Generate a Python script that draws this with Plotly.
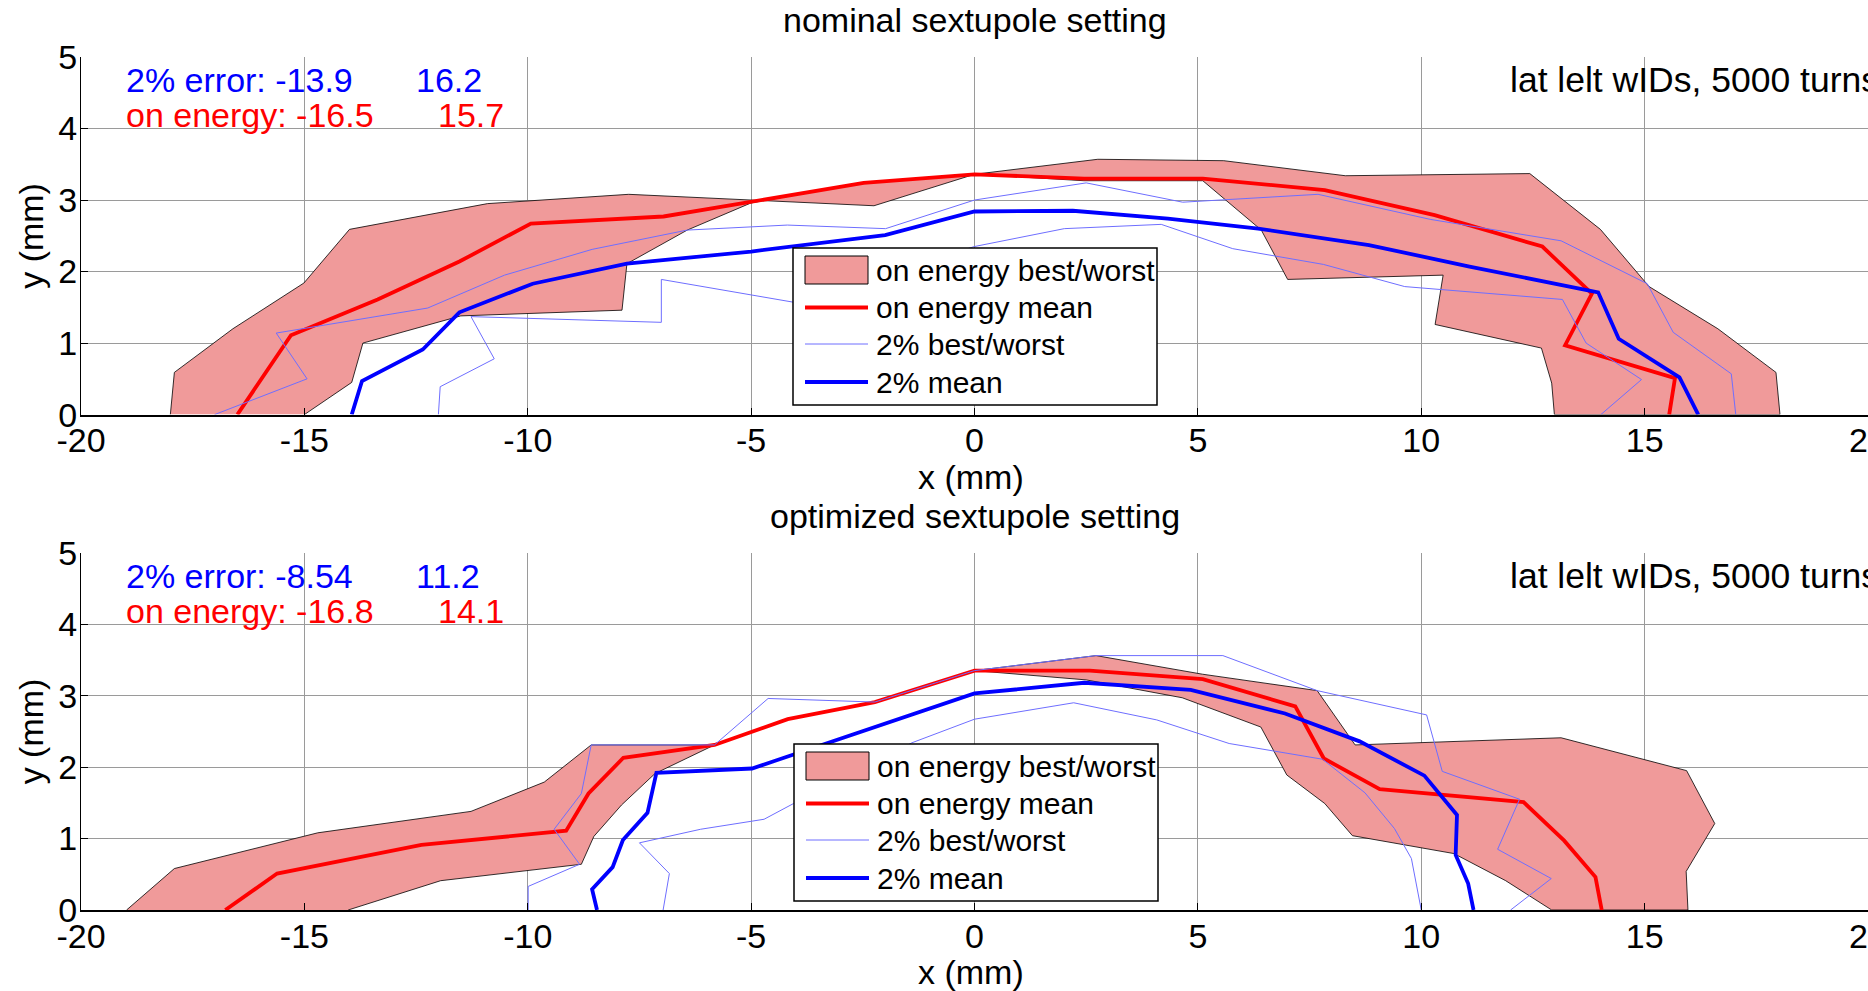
import plotly.graph_objects as go

W, H = 1868, 991

# ---------------- data (mm) ----------------
x_ticks = [-20, -15, -10, -5, 0, 5, 10, 15, 20]
y_ticks = [0, 1, 2, 3, 4, 5]

# ---- nominal sextupole setting ----
nom_oe_best_x = [-18.0, -17.91, -16.6, -15.01, -13.99, -10.9, -7.74, -2.25, 0.0, 2.76, 5.58, 8.3, 12.43, 14.01, 15.1, 16.64, 17.94, 18.03]
nom_oe_best_y = [0.0, 0.59, 1.2, 1.84, 2.59, 2.95, 3.08, 2.92, 3.36, 3.57, 3.55, 3.34, 3.37, 2.59, 1.79, 1.2, 0.59, 0.0]
nom_oe_worst_x = [-15.0, -13.94, -13.69, -11.5, -7.89, -7.78, -6.43, -5.0, -2.48, 0.0, 2.45, 5.11, 6.42, 7.01, 10.49, 10.31, 12.69, 12.92, 12.98]
nom_oe_worst_y = [0.0, 0.45, 1.0, 1.38, 1.46, 2.11, 2.58, 2.96, 3.24, 3.36, 3.27, 3.27, 2.58, 1.89, 1.95, 1.26, 0.93, 0.44, 0.0]
nom_oe_mean_x = [-16.5, -15.3, -13.36, -11.53, -9.93, -6.96, -2.48, 0.0, 2.45, 5.11, 7.84, 10.3, 12.71, 13.82, 13.22, 15.68, 15.55]
nom_oe_mean_y = [0.0, 1.11, 1.61, 2.14, 2.67, 2.77, 3.24, 3.36, 3.3, 3.3, 3.14, 2.79, 2.35, 1.69, 0.97, 0.51, 0.0]
nom_dp_best_x = [-17.01, -14.94, -15.63, -12.24, -10.52, -8.56, -6.43, -4.19, -1.99, 0.0, 2.5, 4.66, 7.69, 10.2, 13.13, 15.06, 15.64, 16.94, 17.04]
nom_dp_best_y = [0.0, 0.5, 1.14, 1.49, 1.95, 2.31, 2.58, 2.65, 2.6, 3.0, 3.24, 2.97, 3.08, 2.73, 2.43, 1.83, 1.15, 0.57, 0.0]
nom_dp_worst_x = [-12.0, -11.96, -10.75, -11.27, -7.01, -7.01, -4.04, 0.0, 2.01, 4.18, 5.78, 7.81, 9.63, 13.16, 13.69, 14.93, 14.02]
nom_dp_worst_y = [0.0, 0.39, 0.78, 1.37, 1.29, 1.89, 1.57, 2.35, 2.6, 2.66, 2.32, 2.1, 1.79, 1.61, 1.0, 0.49, 0.0]
nom_dp_mean_x = [-13.94, -13.71, -12.35, -11.53, -9.89, -7.78, -5.0, -2.0, 0.0, 2.2, 4.33, 6.35, 8.83, 11.08, 13.96, 14.42, 15.78, 16.2]
nom_dp_mean_y = [0.0, 0.47, 0.91, 1.43, 1.83, 2.11, 2.28, 2.51, 2.84, 2.85, 2.74, 2.6, 2.37, 2.07, 1.71, 1.06, 0.52, 0.0]

# ---- optimized sextupole setting ----
opt_oe_best_x = [-18.98, -17.91, -14.7, -11.27, -9.63, -8.58, -5.82, -4.18, -2.23, 0.0, 2.72, 5.1, 7.67, 8.52, 13.13, 15.94, 16.57, 15.93, 15.97]
opt_oe_best_y = [0.0, 0.58, 1.08, 1.38, 1.79, 2.31, 2.31, 2.67, 2.91, 3.35, 3.56, 3.3, 3.07, 2.31, 2.41, 1.95, 1.21, 0.54, 0.0]
opt_oe_worst_x = [-14.02, -11.95, -8.8, -8.52, -7.9, -7.15, -5.82, -4.18, -2.23, 0.0, 2.5, 4.65, 6.41, 6.99, 7.84, 8.46, 10.73, 11.89, 12.92]
opt_oe_worst_y = [0.0, 0.41, 0.64, 1.03, 1.47, 1.91, 2.31, 2.67, 2.91, 3.35, 3.22, 2.97, 2.56, 1.89, 1.49, 1.04, 0.79, 0.41, 0.0]
opt_oe_mean_x = [-16.77, -15.61, -12.38, -9.14, -8.64, -7.86, -5.82, -4.18, -2.23, 0.0, 2.58, 5.11, 7.18, 7.82, 9.07, 12.29, 13.2, 13.9, 14.04]
opt_oe_mean_y = [0.0, 0.51, 0.91, 1.11, 1.63, 2.13, 2.31, 2.67, 2.91, 3.35, 3.35, 3.23, 2.85, 2.12, 1.69, 1.51, 0.97, 0.46, 0.0]
opt_dp_best_x = [-9.99, -9.99, -8.84, -9.41, -8.8, -8.58, -5.82, -4.62, -2.23, 0.0, 2.72, 5.56, 7.67, 10.12, 10.47, 12.2, 11.71, 12.91, 12.0]
opt_dp_best_y = [0.0, 0.33, 0.64, 1.13, 1.63, 2.31, 2.31, 2.96, 2.91, 3.35, 3.56, 3.56, 3.07, 2.73, 1.94, 1.55, 0.85, 0.44, 0.0]
opt_dp_worst_x = [-6.97, -6.83, -7.5, -6.13, -4.71, -4.05, -1.4, 0.0, 2.22, 4.08, 5.7, 7.79, 8.74, 9.4, 9.78, 10.0]
opt_dp_worst_y = [0.0, 0.51, 0.94, 1.13, 1.27, 1.49, 2.34, 2.67, 2.9, 2.66, 2.33, 2.11, 1.64, 1.14, 0.72, 0.0]
opt_dp_mean_x = [-8.45, -8.56, -8.1, -7.87, -7.32, -7.12, -4.98, -2.28, 0.0, 2.46, 4.84, 6.95, 8.62, 10.07, 10.8, 10.77, 11.05, 11.17]
opt_dp_mean_y = [0.0, 0.29, 0.6, 0.98, 1.36, 1.92, 1.98, 2.55, 3.03, 3.18, 3.08, 2.75, 2.36, 1.88, 1.33, 0.77, 0.37, 0.0]

panel_titles = ["nominal sextupole setting", "optimized sextupole setting"]
dp_text = [("2% error: -13.9", "16.2"), ("2% error: -8.54", "11.2")]
oe_text = [("on energy: -16.5", "15.7"), ("on energy: -16.8", "14.1")]
info_text = "lat lelt wIDs, 5000 turns"
legend_labels = ["on energy best/worst", "on energy mean", "2% best/worst", "2% mean"]
x_title = "x (mm)"
y_title = "y (mm)"

# ---------------- styles ----------------
FONT = "Liberation Sans, Arial, Helvetica, sans-serif"
PINK = "#F09A9A"
RED = "#FF0000"
BLUE = "#0000FF"
LBLUE = "rgb(110,110,255)"
GRID = "#9a9a9a"
THICK = 3.8

panels = [
    dict(best=(nom_oe_best_x, nom_oe_best_y), worst=(nom_oe_worst_x, nom_oe_worst_y),
         oe_mean=(nom_oe_mean_x, nom_oe_mean_y), dp_best=(nom_dp_best_x, nom_dp_best_y),
         dp_worst=(nom_dp_worst_x, nom_dp_worst_y), dp_mean=(nom_dp_mean_x, nom_dp_mean_y),
         y0=414.6, y5=57.0, legend_left=793, legend_top=248),
    dict(best=(opt_oe_best_x, opt_oe_best_y), worst=(opt_oe_worst_x, opt_oe_worst_y),
         oe_mean=(opt_oe_mean_x, opt_oe_mean_y), dp_best=(opt_dp_best_x, opt_dp_best_y),
         dp_worst=(opt_dp_worst_x, opt_dp_worst_y), dp_mean=(opt_dp_mean_x, opt_dp_mean_y),
         y0=910.0, y5=552.7, legend_left=794, legend_top=744),
]

X_LEFT = 81.0  # px of x=-20


def px(xp):
    return xp / W


def py(yp):
    return 1 - yp / H


fig = go.Figure()
annotations = []
shapes = []

for i, p in enumerate(panels):
    xa = "x" if i == 0 else "x2"
    ya = "y" if i == 0 else "y2"
    bx, by = p["best"]
    wx, wy = p["worst"]
    fig.add_trace(go.Scatter(x=list(bx) + list(wx)[::-1], y=list(by) + list(wy)[::-1],
                             fill="toself", fillcolor=PINK, mode="lines",
                             line=dict(color="black", width=0.8),
                             name=legend_labels[0], showlegend=False, xaxis=xa, yaxis=ya,
                             hoverinfo="skip"))
    fig.add_trace(go.Scatter(x=p["oe_mean"][0], y=p["oe_mean"][1], mode="lines",
                             line=dict(color=RED, width=THICK), name=legend_labels[1],
                             showlegend=False, xaxis=xa, yaxis=ya))
    for key in ("dp_best", "dp_worst"):
        fig.add_trace(go.Scatter(x=p[key][0], y=p[key][1], mode="lines",
                                 line=dict(color=LBLUE, width=1), name=legend_labels[2],
                                 showlegend=False, xaxis=xa, yaxis=ya))
    fig.add_trace(go.Scatter(x=p["dp_mean"][0], y=p["dp_mean"][1], mode="lines",
                             line=dict(color=BLUE, width=THICK), name=legend_labels[3],
                             showlegend=False, xaxis=xa, yaxis=ya))

    y0, y5 = p["y0"], p["y5"]
    axis_common = dict(showgrid=True, gridcolor=GRID, gridwidth=1, zeroline=False,
                       showline=True, linecolor="black", linewidth=1, automargin=False,
                       ticks="inside", ticklen=7, tickcolor="black",
                       tickfont=dict(family=FONT, size=34, color="black"))
    xkey = "xaxis" if i == 0 else "xaxis2"
    ykey = "yaxis" if i == 0 else "yaxis2"
    fig.update_layout(**{
        xkey: dict(axis_common, domain=[px(X_LEFT), 1.0], range=[-20, 20],
                   tickvals=x_ticks, ticktext=[str(v) for v in x_ticks],
                   anchor=ya, ticklabeloverflow="allow", linewidth=2, ticklabelstandoff=-5),
        ykey: dict(axis_common, domain=[py(y0), py(y5)], range=[0, 5],
                   tickvals=y_ticks, ticktext=[str(v) for v in y_ticks], anchor=xa,
                   ticklabelstandoff=-4),
    })

    # panel title
    annotations.append(dict(text=panel_titles[i], x=px(975), y=py(y5 - 37), xref="paper", yref="paper",
                            xanchor="center", yanchor="middle", showarrow=False,
                            font=dict(family=FONT, size=34, color="black")))
    # x title
    annotations.append(dict(text=x_title, x=px(971), y=py(y0 + 62), xref="paper", yref="paper",
                            xanchor="center", yanchor="middle", showarrow=False,
                            font=dict(family=FONT, size=34, color="black")))
    # y title
    annotations.append(dict(text=y_title, x=px(31), y=py((y0 + y5) / 2), xref="paper", yref="paper",
                            xanchor="center", yanchor="middle", showarrow=False, textangle=-90,
                            font=dict(family=FONT, size=34, color="black")))
    # in-plot text
    r1 = y5 + 23
    r2 = y5 + 58
    annotations.append(dict(text=dp_text[i][0], x=px(124), y=py(r1), xref="paper", yref="paper",
                            xanchor="left", yanchor="middle", showarrow=False,
                            font=dict(family=FONT, size=34, color=BLUE)))
    annotations.append(dict(text=dp_text[i][1], x=px(414), y=py(r1), xref="paper", yref="paper",
                            xanchor="left", yanchor="middle", showarrow=False,
                            font=dict(family=FONT, size=34, color=BLUE)))
    annotations.append(dict(text=oe_text[i][0], x=px(124), y=py(r2), xref="paper", yref="paper",
                            xanchor="left", yanchor="middle", showarrow=False,
                            font=dict(family=FONT, size=34, color=RED)))
    annotations.append(dict(text=oe_text[i][1], x=px(436), y=py(r2), xref="paper", yref="paper",
                            xanchor="left", yanchor="middle", showarrow=False,
                            font=dict(family=FONT, size=34, color=RED)))
    annotations.append(dict(text=info_text, x=px(1508), y=py(r1), xref="paper", yref="paper",
                            xanchor="left", yanchor="middle", showarrow=False,
                            font=dict(family=FONT, size=35.5, color="black")))

    # hand-drawn legend box
    L, T = p["legend_left"], p["legend_top"]
    shapes.append(dict(type="rect", xref="paper", yref="paper", x0=px(L), x1=px(L + 364),
                       y0=py(T + 157), y1=py(T), fillcolor="white", line=dict(color="black", width=1.5),
                       layer="above"))
    shapes.append(dict(type="rect", xref="paper", yref="paper", x0=px(L + 12), x1=px(L + 75),
                       y0=py(T + 36), y1=py(T + 8), fillcolor=PINK, line=dict(color="black", width=1),
                       layer="above"))
    for yy, col, wd in ((59.5, RED, THICK), (96, LBLUE, 1), (134, BLUE, THICK)):
        shapes.append(dict(type="line", xref="paper", yref="paper", x0=px(L + 12), x1=px(L + 75),
                           y0=py(T + yy), y1=py(T + yy), line=dict(color=col, width=wd), layer="above"))
    for k, yy in enumerate((22, 59.5, 96, 134)):
        annotations.append(dict(text=legend_labels[k], x=px(L + 81), y=py(T + yy), xref="paper", yref="paper",
                                xanchor="left", yanchor="middle", showarrow=False,
                                font=dict(family=FONT, size=30, color="black")))

fig.update_layout(width=W, height=H, margin=dict(l=0, r=0, t=0, b=0, autoexpand=False),
                  paper_bgcolor="white", plot_bgcolor="white", showlegend=False,
                  annotations=annotations, shapes=shapes)

fig.write_html("out.html")
